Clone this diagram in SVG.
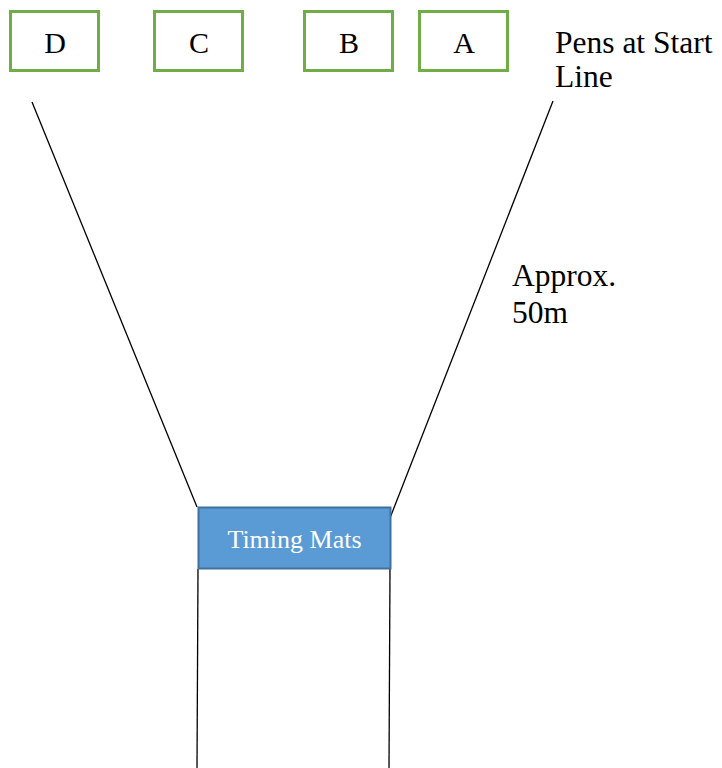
<svg xmlns="http://www.w3.org/2000/svg" width="722" height="768" viewBox="0 0 722 768">
<style>
.pen{fill:#fff;stroke:#70ad47;stroke-width:3}
.ln{stroke:#000;stroke-width:1.3;fill:none}
text{font-family:'Liberation Serif',serif}
</style>
<rect width="722" height="768" fill="#fff"/>
<g id="connectors">
<line class="ln" x1="32" y1="102" x2="197" y2="507"/>
<line class="ln" x1="553" y1="101" x2="390" y2="518"/>
<line class="ln" x1="198" y1="569" x2="197" y2="768"/>
<line class="ln" x1="390" y1="569" x2="389" y2="768"/>
</g>
<g font-family="'Liberation Serif', serif" font-size="30" fill="#000">
<g id="penD"><rect class="pen" x="10.5" y="11.5" width="88" height="59"/><text x="55" y="53" text-anchor="middle">D</text></g>
<g id="penC"><rect class="pen" x="154.5" y="11.5" width="88" height="59"/><text x="199" y="53" text-anchor="middle">C</text></g>
<g id="penB"><rect class="pen" x="304.5" y="11.5" width="88" height="59"/><text x="349" y="53" text-anchor="middle">B</text></g>
<g id="penA"><rect class="pen" x="419.5" y="11.5" width="88" height="59"/><text x="464" y="53" text-anchor="middle">A</text></g>
<g id="pensLabel" font-size="31.5"><text x="555" y="53">Pens at Start</text><text x="555" y="87">Line</text></g>
<g id="distLabel" font-size="31.5"><text x="512" y="286">Approx.</text><text x="512" y="323">50m</text></g>
</g>
<g id="timingMats"><rect x="198.5" y="507.5" width="192" height="61" fill="#5b9bd5" stroke="#41719c" stroke-width="2"/><text x="294.5" y="548" text-anchor="middle" font-family="'Liberation Serif', serif" font-size="26" fill="#fff">Timing Mats</text></g>
</svg>
